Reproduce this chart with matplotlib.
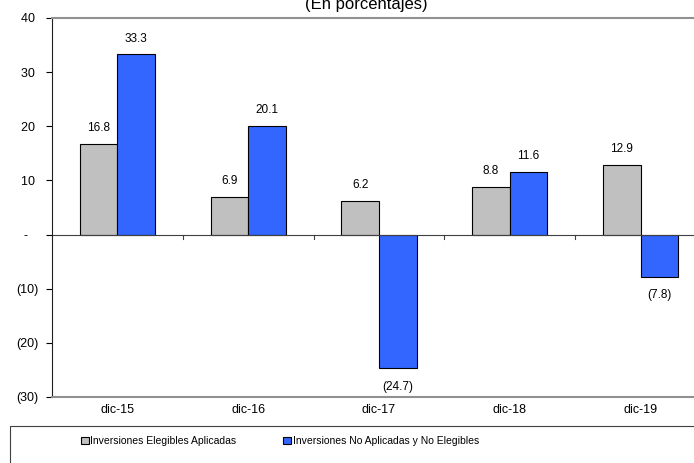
import matplotlib.pyplot as plt
import numpy as np
from matplotlib.patches import Rectangle

categories = ['dic-15', 'dic-16', 'dic-17', 'dic-18', 'dic-19']
elegibles = [16.8, 6.9, 6.2, 8.8, 12.9]
no_elegibles = [33.3, 20.1, -24.7, 11.6, -7.8]
label_1 = 'Inversiones Elegibles Aplicadas'
label_2 = 'Inversiones No Aplicadas y No Elegibles'
y_ticks = [-30, -20, -10, 0, 10, 20, 30, 40]


def fmt(v):
    if v == 0:
        return '-'
    if v < 0:
        return '({:g})'.format(abs(v))
    return '{:g}'.format(v)


def tick_fmt(v):
    # excel style: leave room for the closing parenthesis
    if v == 0:
        return '-   '
    if v < 0:
        return fmt(v)
    return fmt(v) + ' '


plt.rcParams['font.family'] = ['Liberation Sans', 'DejaVu Sans']
plt.rcParams['font.size'] = 9

W, H = 694, 463
fig = plt.figure(figsize=(W / 100, H / 100), dpi=100)
ax = fig.add_axes([52 / W, (H - 397) / H, 654 / W, 379 / H])

x = np.arange(len(categories))
w = 0.287
b1 = ax.bar(x - w / 2, elegibles, w, color='#C0C0C0', edgecolor='black', linewidth=0.8, label=label_1)
b2 = ax.bar(x + w / 2, no_elegibles, w, color='#3366FF', edgecolor='black', linewidth=0.8, label=label_2)

for bars, vals in ((b1, elegibles), (b2, no_elegibles)):
    for rect, v in zip(bars, vals):
        cx = rect.get_x() + rect.get_width() / 2
        if v >= 0:
            ax.annotate(fmt(v), (cx, v), xytext=(0, 7), textcoords='offset points',
                        ha='center', va='bottom', fontsize=8.5)
        else:
            ax.annotate(fmt(v), (cx, v), xytext=(0, -9), textcoords='offset points',
                        ha='center', va='top', fontsize=8.5)

ax.set_xlim(-0.5, len(categories) - 0.5)
ax.set_ylim(-30, 40)
ax.set_yticks(y_ticks)
ax.set_yticklabels([tick_fmt(t) for t in y_ticks])
ax.set_xticks(x)
ax.set_xticklabels(categories)
ax.tick_params(axis='x', length=0, pad=5, labelsize=9)
ax.tick_params(axis='y', length=4, direction='out', width=0.8, pad=6, labelsize=9)

# zero line with category separators
ax.axhline(0, color='#404040', linewidth=0.8)
for b in np.arange(0.5, len(categories) - 0.5 + 1):
    ax.plot([b, b], [0, -0.8], color='#404040', linewidth=0.8, clip_on=False)

ax.spines['left'].set_color('#202020')
ax.spines['right'].set_visible(False)
ax.spines['top'].set_color('#909090')
ax.spines['top'].set_linewidth(1.5)
ax.spines['bottom'].set_color('#909090')
ax.spines['bottom'].set_linewidth(1.5)

fig.text(366 / W, 1 - 9 / H, '(En porcentajes)', ha='center', va='baseline', fontsize=12)

# legend box
fig.patches.append(Rectangle((10 / W, -10 / H), 700 / W, 47 / H, transform=fig.transFigure,
                             facecolor='white', edgecolor='#404040', linewidth=0.8))
fig.legend(handles=[b1, b2], labels=[label_1, label_2], loc='center',
           bbox_to_anchor=(280 / W, 1 - 441 / H), ncol=2, frameon=False,
           handlelength=0.75, handleheight=0.75, handletextpad=0.15, columnspacing=4.5,
           fontsize=7.5)

fig.savefig('out.png', dpi=100)
